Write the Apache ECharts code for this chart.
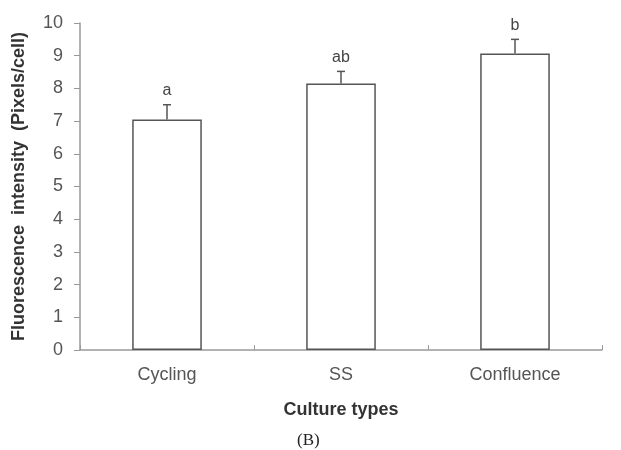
<!DOCTYPE html>
<html>
<head>
<meta charset="utf-8">
<script src="https://cdn.jsdelivr.net/npm/echarts@6/dist/echarts.min.js"></script>
<style>
  html, body { margin: 0; padding: 0; background: #fff; }
  #chart { width: 621px; height: 450px; }
</style>
</head>
<body>
<div id="chart"></div>
<script>
var categories = ['Cycling', 'SS', 'Confluence']
var means = [7.05, 8.15, 9.07]
var errors = [0.45, 0.37, 0.43]
var letters = ['a', 'ab', 'b']

var errData = means.map(function (m, i) {
  return [i, m, m + errors[i]]
})

var chart = echarts.init(document.getElementById('chart'))
var option = {
  backgroundColor: '#fff',
  animation: false,
  textStyle: { fontFamily: 'Liberation Sans, Arial, sans-serif' },
  grid: { left: 80, right: 19, top: 23, bottom: 100, containLabel: false, outerBoundsMode: 'none' },
  xAxis: {
    type: 'category',
    data: categories,
    name: 'Culture types',
    nameLocation: 'middle',
    nameGap: 51,
    nameTextStyle: { fontSize: 18, fontWeight: 'bold', color: '#333' },
    axisLine: { lineStyle: { color: '#999', width: 1.5 } },
    axisTick: { show: true, inside: true, length: 5, lineStyle: { color: '#999' } },
    axisLabel: { fontSize: 18, color: '#555', margin: 16 }
  },
  yAxis: {
    type: 'value',
    min: 0,
    max: 10,
    interval: 1,
    name: 'Fluorescence  intensity  (Pixels/cell)',
    nameLocation: 'middle',
    nameGap: 52,
    nameTextStyle: { fontSize: 18, fontWeight: 'bold', color: '#333' },
    axisLine: { show: true, lineStyle: { color: '#999', width: 1.5 } },
    axisTick: { show: true, length: 6, lineStyle: { color: '#999' } },
    axisLabel: { fontSize: 18, color: '#555', margin: 17 },
    splitLine: { show: false }
  },
  graphic: [{
    type: 'text',
    left: 297,
    top: 432,
    style: { text: '(B)', font: '17px "Liberation Serif", "Times New Roman", serif', fill: '#222' }
  }],
  series: [
    {
      type: 'bar',
      data: means,
      barWidth: '40%',
      itemStyle: { color: '#fff', borderColor: '#555', borderWidth: 1.5 }
    },
    {
      type: 'custom',
      data: errData,
      z: 3,
      renderItem: function (params, api) {
        var base = api.coord([api.value(0), api.value(1)])
        var top = api.coord([api.value(0), api.value(2)])
        return {
          type: 'group',
          children: [
            { type: 'line', shape: { x1: base[0], y1: base[1], x2: top[0], y2: top[1] }, style: { stroke: '#555', lineWidth: 1.5 } },
            { type: 'line', shape: { x1: top[0] - 4, y1: top[1], x2: top[0] + 4, y2: top[1] }, style: { stroke: '#555', lineWidth: 1.5 } },
            { type: 'text', x: top[0], y: top[1] - 6, style: { text: letters[params.dataIndex], textAlign: 'center', textVerticalAlign: 'bottom', font: '16px "Liberation Sans", Arial, sans-serif', fill: '#444' } }
          ]
        }
      }
    }
  ]
}
chart.setOption(option)
</script>
</body>
</html>
